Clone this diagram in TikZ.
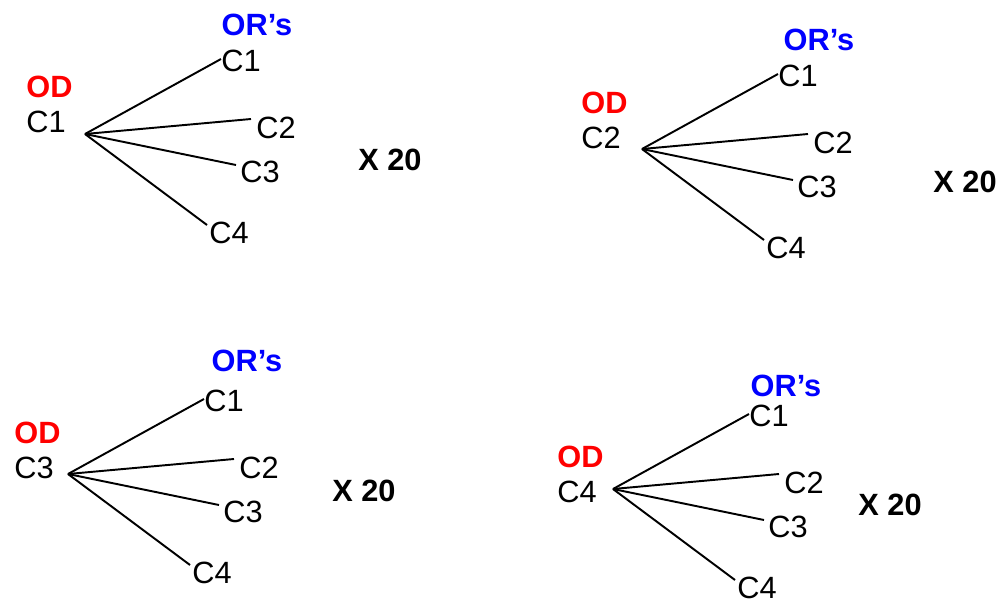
\documentclass[tikz,border=0pt]{standalone}
\usepackage{fontspec}
\setmainfont{Liberation Sans}
\usetikzlibrary{positioning}
\tikzset{
  cname/.style={inner sep=0pt, font=\fontsize{17.5}{20}\selectfont},
  odname/.style={cname, text=red, font=\fontsize{17.5}{20}\selectfont\bfseries},
  orname/.style={cname, text=blue, font=\fontsize{17.5}{20}\selectfont\bfseries},
  times/.style={cname, font=\fontsize{17.5}{20}\selectfont\bfseries},
  branch/.style={line width=1.1pt},
}
\begin{document}
\begin{tikzpicture}[x=0.02cm,y=-0.02cm]
    \useasboundingbox (0,0) rectangle (1005,599);
    % one tree per origin: hub, OD label, OR's label, X 20
    \foreach \g/\hx/\hy/\sx/\sy/\ox/\oy/\xx/\xy in {1/85/134/-39/-12/172/-109/305/26, 2/642/149/-41/-11/177/-109/323/33, 3/68/474/-34/-6/179/-113/296/17, 4/613/489/-36/3/173/-103/277/16} {
        \coordinate (hub\g) at (\hx,\hy);
        \node[cname] (src\g) at ([shift={(\sx,\sy)}]hub\g) {C\g};
        \node[odname, above=0.26cm of src\g.north west, anchor=south west] (od\g) {OD};
        \node[orname] (or\g) at ([shift={(\ox,\oy)}]hub\g) {OR’s};
        \node[times] (x\g) at ([shift={(\xx,\xy)}]hub\g) {X 20};
        \foreach \n/\ex/\ey/\tx/\ty in {1/136/-75/156/-73, 2/166/-15/191/-6, 3/151/31/175/38, 4/122/91/144/99} {
            \coordinate (end\g\n) at ([shift={(\ex,\ey)}]hub\g);
            \node[cname] (tgt\g\n) at ([shift={(\tx,\ty)}]hub\g) {C\n};
            \draw[branch] (hub\g) -- (end\g\n);
        }
    }
\end{tikzpicture}
\end{document}
